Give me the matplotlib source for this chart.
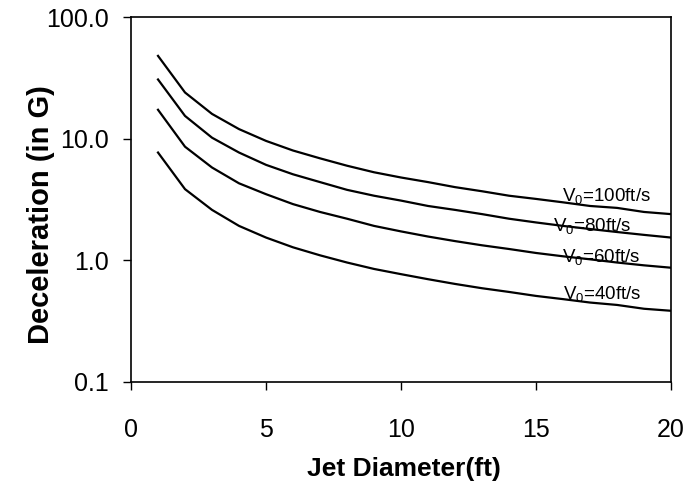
import matplotlib
matplotlib.use("Agg")
import matplotlib.pyplot as plt
from matplotlib.ticker import FixedLocator, FuncFormatter, NullLocator

plt.rcParams['font.family'] = ['Liberation Sans', 'DejaVu Sans']
plt.rcParams['mathtext.fontset'] = 'custom'
plt.rcParams['mathtext.rm'] = 'Liberation Sans'
plt.rcParams['mathtext.it'] = 'Liberation Sans'

# Jet diameter (ft)
diameter = list(range(1, 21))

# Deceleration (G), one list per inlet velocity
decel_100 = [48, 24, 16, 12, 9.6, 8.0, 6.9, 6.0, 5.3, 4.8,
             4.4, 4.0, 3.7, 3.4, 3.2, 3.0, 2.8, 2.7, 2.5, 2.4]
decel_80 = [30.7, 15.4, 10.2, 7.7, 6.1, 5.1, 4.4, 3.8, 3.4, 3.1,
            2.8, 2.6, 2.4, 2.2, 2.05, 1.92, 1.81, 1.71, 1.62, 1.54]
decel_60 = [17.3, 8.6, 5.8, 4.3, 3.5, 2.9, 2.5, 2.2, 1.92, 1.73,
            1.57, 1.44, 1.33, 1.24, 1.15, 1.08, 1.02, 0.96, 0.91, 0.87]
decel_40 = [7.7, 3.85, 2.6, 1.92, 1.54, 1.28, 1.1, 0.96, 0.85, 0.77,
            0.70, 0.64, 0.59, 0.55, 0.51, 0.48, 0.45, 0.43, 0.40, 0.385]

series = [decel_100, decel_80, decel_60, decel_40]
labels = ['V$_0$=100ft/s', 'V$_0$=80ft/s', 'V$_0$=60ft/s', 'V$_0$=40ft/s']
label_pos = [(15.96, 3.1), (15.63, 1.75), (15.96, 0.97), (16.0, 0.48)]

fig = plt.figure(figsize=(6.91, 4.82), dpi=100)
ax = fig.add_axes([0.1896, 0.2075, 0.7815, 0.757])

for vals in series:
    ax.plot(diameter, vals, color='black', linewidth=1.6)

for txt, (x, y) in zip(labels, label_pos):
    ax.text(x, y, txt, fontsize=13.5, ha='left', va='baseline')

ax.set_yscale('log')
ax.set_xlim(0, 20)
ax.set_ylim(0.1, 100)
ax.xaxis.set_major_locator(FixedLocator([0, 5, 10, 15, 20]))
ax.yaxis.set_major_locator(FixedLocator([0.1, 1, 10, 100]))
ax.yaxis.set_minor_locator(NullLocator())
ax.yaxis.set_major_formatter(FuncFormatter(lambda v, p: f'{v:.1f}'))

ax.tick_params(axis='both', direction='out', length=6, width=1, labelsize=18)
ax.tick_params(axis='x', pad=20)
ax.tick_params(axis='y', pad=10)
for s in ax.spines.values():
    s.set_linewidth(1.2)

ax.set_xlabel('Jet Diameter(ft)', fontsize=19, fontweight='bold')
ax.set_ylabel('Deceleration (in G)', fontsize=21, fontweight='bold')
ax.xaxis.set_label_coords(0.506, -0.205)
ax.yaxis.set_label_coords(-0.141, 0.46)

fig.savefig('out.png', dpi=100)
